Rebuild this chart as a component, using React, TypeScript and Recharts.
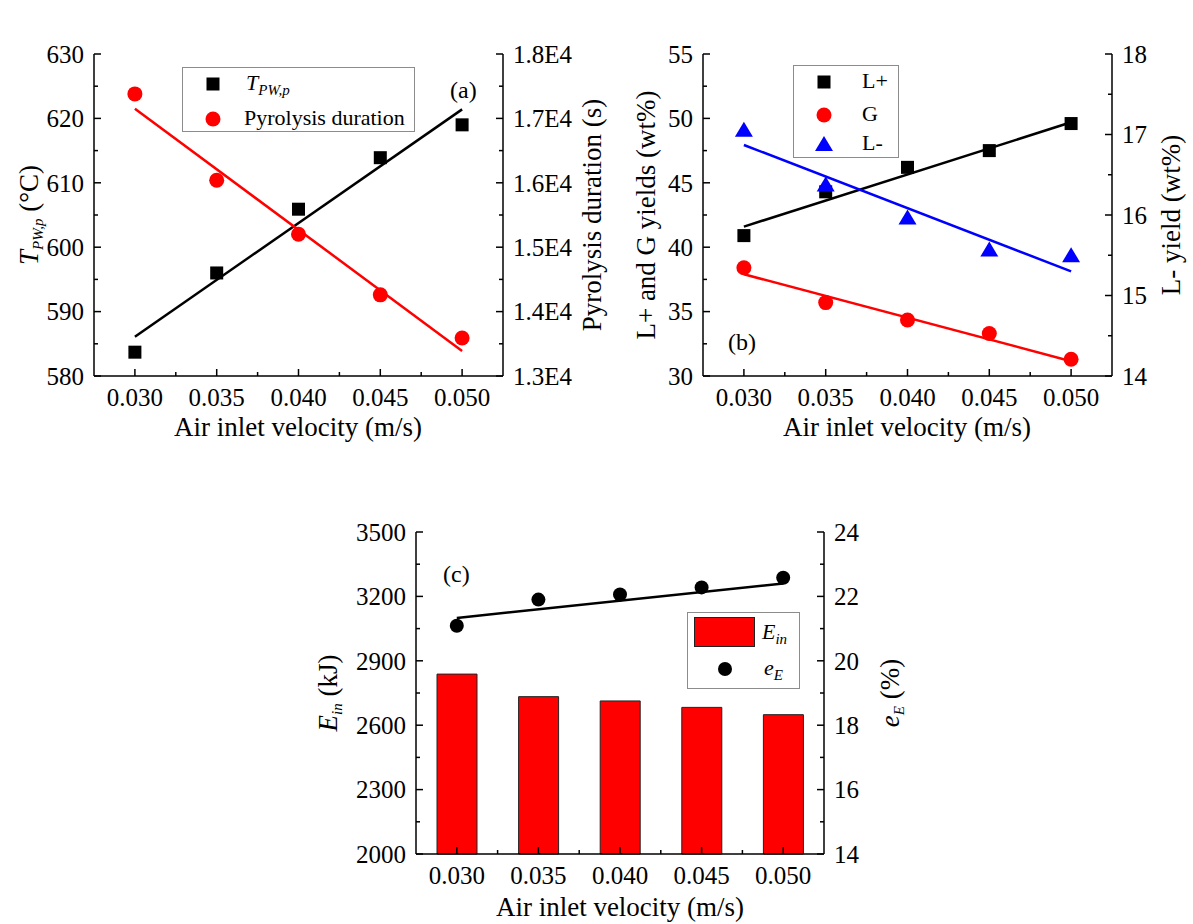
import React from "react";
import { ComposedChart, Line, Bar, XAxis, YAxis, Legend } from "recharts";

// ---- values ----
const velocity = [0.03, 0.035, 0.04, 0.045, 0.05];
const velocityLabels = ["0.030", "0.035", "0.040", "0.045", "0.050"];

// (a) peak pyrolysis temperature and pyrolysis duration
const peakTemp = [583.7, 596.0, 605.9, 613.9, 619.0];
const pyrolysisDuration = [17380, 16040, 15200, 14260, 13590];
const peakTempFit = [586.1, 621.4]; // fitted line at 0.030 and 0.050
const durationFit = [17150, 13390];

// (b) product yields
const lPlusYield = [40.9, 44.3, 46.2, 47.5, 49.6];
const gasYield = [38.4, 35.7, 34.35, 33.3, 31.3];
const lMinusYield = [17.06, 16.38, 15.97, 15.57, 15.5];
const lPlusFit = [41.6, 49.7];
const gasFit = [37.9, 31.15];
const lMinusFit = [16.87, 15.3];

// (c) energy input and efficiency
const energyIn = [2838, 2733, 2713, 2683, 2649];
const efficiency = [21.09, 21.9, 22.06, 22.28, 22.58];
const efficiencyFit = [21.33, 22.4];

// ticks (minor ticks included, labels only on majors)
const velocityTicks = [0.03, 0.0325, 0.035, 0.0375, 0.04, 0.0425, 0.045, 0.0475, 0.05];
const tempTicks = [580, 585, 590, 595, 600, 605, 610, 615, 620, 625, 630];
const durationTicks = [13000, 13500, 14000, 14500, 15000, 15500, 16000, 16500, 17000, 17500, 18000];
const yieldTicks = [30, 32.5, 35, 37.5, 40, 42.5, 45, 47.5, 50, 52.5, 55];
const lMinusTicks = [14, 14.5, 15, 15.5, 16, 16.5, 17, 17.5, 18];
const energyTicks = [2000, 2150, 2300, 2450, 2600, 2750, 2900, 3050, 3200, 3350, 3500];
const efficiencyTicks = [14, 15, 16, 17, 18, 19, 20, 21, 22, 23, 24];

const FONT = '"Liberation Serif", "Times New Roman", serif';
const TICK_FONT = 25;
const TITLE_FONT = 27;
const MAJOR = 7;
const MINOR = 4;
const AXIS = { stroke: "#000", strokeWidth: 1.5 };

const atEnds = (fit: number[], i: number) =>
  i === 0 ? fit[0] : i === velocity.length - 1 ? fit[1] : null;

const dataA = velocity.map((v, i) => ({
  v,
  temp: peakTemp[i],
  duration: pyrolysisDuration[i],
  tempFit: atEnds(peakTempFit, i),
  durationFit: atEnds(durationFit, i),
}));

const dataB = velocity.map((v, i) => ({
  v,
  lPlus: lPlusYield[i],
  gas: gasYield[i],
  lMinus: lMinusYield[i],
  lPlusFit: atEnds(lPlusFit, i),
  gasFit: atEnds(gasFit, i),
  lMinusFit: atEnds(lMinusFit, i),
}));

const dataC = velocity.map((v, i) => ({
  label: velocityLabels[i],
  energy: energyIn[i],
  eff: efficiency[i],
  effFit: atEnds(efficiencyFit, i),
}));

const onStep = (v: number, base: number, step: number) => {
  const q = (v - base) / step;
  return Math.abs(q - Math.round(q)) < 1e-6;
};

type TickOpts = {
  side: "left" | "right" | "bottom" | "top";
  base?: number;
  step?: number;
  fmt?: (v: any) => string;
  half?: number;
};

const makeTick =
  ({ side, base = 0, step = 0, fmt, half = 0 }: TickOpts) =>
  (props: any) => {
    const { x, y, payload, index } = props;
    const v = payload.value;
    const major = step === 0 || onStep(Number(v), base, step);
    const len = major ? MAJOR : MINOR;
    const label = major && fmt ? fmt(v) : null;
    const txt = { fill: "#000", fontFamily: FONT, fontSize: TICK_FONT };
    const ln = { stroke: "#000", strokeWidth: 1.5 };
    const extra = half > 0 && index < velocity.length - 1;
    if (side === "left")
      return (
        <g>
          <line x1={x} y1={y} x2={x + len} y2={y} {...ln} />
          {label && (
            <text x={x - 10} y={y} dy="0.35em" textAnchor="end" {...txt}>
              {label}
            </text>
          )}
        </g>
      );
    if (side === "right")
      return (
        <g>
          <line x1={x} y1={y} x2={x - len} y2={y} {...ln} />
          {label && (
            <text x={x + 10} y={y} dy="0.35em" textAnchor="start" {...txt}>
              {label}
            </text>
          )}
        </g>
      );
    if (side === "top")
      return (
        <g>
          <line x1={x} y1={y} x2={x} y2={y + len} {...ln} />
          {extra && <line x1={x + half} y1={y} x2={x + half} y2={y + MINOR} {...ln} />}
        </g>
      );
    return (
      <g>
        <line x1={x} y1={y} x2={x} y2={y - len} {...ln} />
        {extra && <line x1={x + half} y1={y} x2={x + half} y2={y - MINOR} {...ln} />}
        {label && (
          <text x={x} y={y + 30} textAnchor="middle" {...txt}>
            {label}
          </text>
        )}
      </g>
    );
  };

const fmtVel = (v: number) => v.toFixed(3);
const fmtE4 = (v: number) => (v / 10000).toFixed(1) + "E4";
const fmtPlain = (v: any) => String(v);

// ---- marker shapes ----
const squareDot = (p: any) =>
  p.cx == null ? <g /> : <rect x={p.cx - 6.5} y={p.cy - 6.5} width={13} height={13} fill="#000" />;
const redDot = (p: any) =>
  p.cx == null ? <g /> : <circle cx={p.cx} cy={p.cy} r={7.5} fill="#ff0000" />;
const blackDot = (p: any) =>
  p.cx == null ? <g /> : <circle cx={p.cx} cy={p.cy} r={7} fill="#000" />;
const triangleDot = (p: any) =>
  p.cx == null ? (
    <g />
  ) : (
    <polygon
      points={`${p.cx},${p.cy - 8} ${p.cx - 9},${p.cy + 7} ${p.cx + 9},${p.cy + 7}`}
      fill="#0000ff"
    />
  );

const LegendMarker = ({ kind }: { kind: string }) => (
  <svg width={20} height={18} style={{ display: "block" }}>
    {kind === "square" && <rect x={3.5} y={2.5} width={13} height={13} fill="#000" />}
    {kind === "red" && <circle cx={10} cy={9} r={7.5} fill="#ff0000" />}
    {kind === "black" && <circle cx={10} cy={9} r={7} fill="#000" />}
    {kind === "triangle" && <polygon points="10,1 1,16 19,16" fill="#0000ff" />}
  </svg>
);

type Row = { kind: string; my: number; mx: number; tx: number; text: React.ReactNode };

const LegendBox = ({ w, h, rows, children }: { w: number; h: number; rows: Row[]; children?: React.ReactNode }) => (
  <div
    style={{
      position: "relative",
      width: w,
      height: h,
      border: "1px solid #8c8c8c",
      boxSizing: "border-box",
      background: "#fff",
      fontFamily: FONT,
      fontSize: 22,
      lineHeight: 1,
      color: "#000",
    }}
  >
    {children}
    {rows.map((r, i) => (
      <React.Fragment key={i}>
        <div style={{ position: "absolute", left: r.mx - 10, top: r.my - 9 }}>
          <LegendMarker kind={r.kind} />
        </div>
        <div style={{ position: "absolute", left: r.tx, top: r.my - 12, whiteSpace: "nowrap" }}>{r.text}</div>
      </React.Fragment>
    ))}
  </div>
);

const Sub = ({ children }: { children: React.ReactNode }) => (
  <sub style={{ fontSize: 15, fontStyle: "italic", verticalAlign: "-0.35em" }}>{children}</sub>
);

const VTitle = ({ cx, cy, children }: { cx: number; cy: number; children: React.ReactNode }) => (
  <div
    style={{
      position: "absolute",
      left: cx,
      top: cy,
      transform: "translate(-50%, -50%) rotate(-90deg)",
      whiteSpace: "nowrap",
      fontFamily: FONT,
      fontSize: TITLE_FONT,
      lineHeight: 1,
    }}
  >
    {children}
  </div>
);

const HText = ({ cx, top, children }: { cx: number; top: number; children: React.ReactNode }) => (
  <div
    style={{
      position: "absolute",
      left: cx,
      top,
      transform: "translateX(-50%)",
      whiteSpace: "nowrap",
      fontFamily: FONT,
      fontSize: TITLE_FONT,
      lineHeight: 1,
    }}
  >
    {children}
  </div>
);

export default function App() {
  return (
    <div
      style={{
        position: "absolute",
        left: 0,
        top: 0,
        width: 1193,
        height: 924,
        background: "#fff",
        overflow: "hidden",
        fontFamily: FONT,
      }}
    >
      {/* (a) */}
      <div style={{ position: "absolute", left: 0, top: 0 }}>
        <ComposedChart width={600} height={460} data={dataA} margin={{ top: 54, right: 47, bottom: 54, left: 44 }}>
          <XAxis xAxisId="b" dataKey="v" type="number" domain={[0.0275, 0.0525]} ticks={velocityTicks} interval={0}
            height={30} tickSize={0} tickMargin={0} tickLine={false} axisLine={AXIS}
            tick={makeTick({ side: "bottom", base: 0.03, step: 0.005, fmt: fmtVel })} />
          <XAxis xAxisId="t" orientation="top" dataKey="v" type="number" domain={[0.0275, 0.0525]} ticks={velocityTicks}
            interval={0} height={0} tickSize={0} tickMargin={0} tickLine={false} axisLine={AXIS}
            tick={makeTick({ side: "top", base: 0.03, step: 0.005 })} />
          <YAxis yAxisId="l" domain={[580, 630]} ticks={tempTicks} interval={0} width={50} tickSize={0} tickMargin={0}
            tickLine={false} axisLine={AXIS} tick={makeTick({ side: "left", base: 580, step: 10, fmt: fmtPlain })} />
          <YAxis yAxisId="r" orientation="right" domain={[13000, 18000]} ticks={durationTicks} interval={0} width={50}
            tickSize={0} tickMargin={0} tickLine={false} axisLine={AXIS}
            tick={makeTick({ side: "right", base: 13000, step: 1000, fmt: fmtE4 })} />
          <Line xAxisId="t" yAxisId="l" dataKey="tempFit" stroke="#000" strokeWidth={2.5} dot={false} activeDot={false}
            connectNulls isAnimationActive={false} />
          <Line xAxisId="t" yAxisId="r" dataKey="durationFit" stroke="#ff0000" strokeWidth={2.5} dot={false}
            activeDot={false} connectNulls isAnimationActive={false} />
          <Line xAxisId="b" yAxisId="l" dataKey="temp" stroke="none" dot={squareDot} activeDot={false}
            isAnimationActive={false} />
          <Line xAxisId="b" yAxisId="r" dataKey="duration" stroke="none" dot={redDot} activeDot={false}
            isAnimationActive={false} />
          <Legend layout="vertical" align="center" verticalAlign="middle"
            wrapperStyle={{ left: 182, top: 67, width: 233, height: 65 }}
            content={() => (
              <LegendBox w={233} h={65} rows={[
                { kind: "square", mx: 30, my: 16, tx: 63, text: <span><i>T</i><Sub>PW,p</Sub></span> },
                { kind: "red", mx: 30, my: 51, tx: 61, text: "Pyrolysis duration" },
              ]} />
            )} />
        </ComposedChart>
      </div>

      {/* (b) */}
      <div style={{ position: "absolute", left: 600, top: 0 }}>
        <ComposedChart width={593} height={460} data={dataB} margin={{ top: 54, right: 31, bottom: 54, left: 53 }}>
          <XAxis xAxisId="b" dataKey="v" type="number" domain={[0.0275, 0.0525]} ticks={velocityTicks} interval={0}
            height={30} tickSize={0} tickMargin={0} tickLine={false} axisLine={AXIS}
            tick={makeTick({ side: "bottom", base: 0.03, step: 0.005, fmt: fmtVel })} />
          <XAxis xAxisId="t" orientation="top" dataKey="v" type="number" domain={[0.0275, 0.0525]} ticks={velocityTicks}
            interval={0} height={0} tickSize={0} tickMargin={0} tickLine={false} axisLine={AXIS}
            tick={makeTick({ side: "top", base: 0.03, step: 0.005 })} />
          <YAxis yAxisId="l" domain={[30, 55]} ticks={yieldTicks} interval={0} width={50} tickSize={0} tickMargin={0}
            tickLine={false} axisLine={AXIS} tick={makeTick({ side: "left", base: 30, step: 5, fmt: fmtPlain })} />
          <YAxis yAxisId="r" orientation="right" domain={[14, 18]} ticks={lMinusTicks} interval={0} width={50}
            tickSize={0} tickMargin={0} tickLine={false} axisLine={AXIS}
            tick={makeTick({ side: "right", base: 14, step: 1, fmt: fmtPlain })} />
          <Line xAxisId="t" yAxisId="l" dataKey="lPlusFit" stroke="#000" strokeWidth={2.5} dot={false} activeDot={false}
            connectNulls isAnimationActive={false} />
          <Line xAxisId="t" yAxisId="l" dataKey="gasFit" stroke="#ff0000" strokeWidth={2.5} dot={false} activeDot={false}
            connectNulls isAnimationActive={false} />
          <Line xAxisId="t" yAxisId="r" dataKey="lMinusFit" stroke="#0000ff" strokeWidth={2.5} dot={false}
            activeDot={false} connectNulls isAnimationActive={false} />
          <Line xAxisId="b" yAxisId="l" dataKey="lPlus" stroke="none" dot={squareDot} activeDot={false}
            isAnimationActive={false} />
          <Line xAxisId="b" yAxisId="l" dataKey="gas" stroke="none" dot={redDot} activeDot={false}
            isAnimationActive={false} />
          <Line xAxisId="b" yAxisId="r" dataKey="lMinus" stroke="none" dot={triangleDot} activeDot={false}
            isAnimationActive={false} />
          <Legend layout="vertical" align="center" verticalAlign="middle"
            wrapperStyle={{ left: 193, top: 65, width: 106, height: 93 }}
            content={() => (
              <LegendBox w={106} h={93} rows={[
                { kind: "square", mx: 30, my: 16, tx: 68, text: "L+" },
                { kind: "red", mx: 30, my: 49, tx: 68, text: "G" },
                { kind: "triangle", mx: 30, my: 78, tx: 68, text: "L-" },
              ]} />
            )} />
        </ComposedChart>
      </div>

      {/* (c) */}
      <div style={{ position: "absolute", left: 300, top: 480 }}>
        <ComposedChart width={600} height={444} data={dataC} margin={{ top: 52, right: 26, bottom: 40, left: 66 }}
          barCategoryGap="25%">
          <XAxis xAxisId="b" dataKey="label" type="category" interval={0} height={30} tickSize={0} tickMargin={0}
            tickLine={false} axisLine={AXIS} tick={makeTick({ side: "bottom", fmt: fmtPlain, half: 40.8 })} />
          <XAxis xAxisId="t" orientation="top" dataKey="label" type="category" interval={0} height={0} tickSize={0}
            tickMargin={0} tickLine={false} axisLine={AXIS} tick={makeTick({ side: "top", half: 40.8 })} />
          <YAxis yAxisId="l" domain={[2000, 3500]} ticks={energyTicks} interval={0} width={50} tickSize={0}
            tickMargin={0} tickLine={false} axisLine={AXIS}
            tick={makeTick({ side: "left", base: 2000, step: 300, fmt: fmtPlain })} />
          <YAxis yAxisId="r" orientation="right" domain={[14, 24]} ticks={efficiencyTicks} interval={0} width={50}
            tickSize={0} tickMargin={0} tickLine={false} axisLine={AXIS}
            tick={makeTick({ side: "right", base: 14, step: 2, fmt: fmtPlain })} />
          <Bar xAxisId="b" yAxisId="l" dataKey="energy" fill="#ff0000" stroke="#222" strokeWidth={1} barSize={40}
            isAnimationActive={false} />
          <Line xAxisId="t" yAxisId="r" dataKey="effFit" stroke="#000" strokeWidth={2.5} dot={false} activeDot={false}
            connectNulls isAnimationActive={false} />
          <Line xAxisId="t" yAxisId="r" dataKey="eff" stroke="none" dot={blackDot} activeDot={false}
            isAnimationActive={false} />
          <Legend layout="vertical" align="center" verticalAlign="middle"
            wrapperStyle={{ left: 387, top: 132, width: 113, height: 77 }}
            content={() => (
              <LegendBox w={113} h={77} rows={[
                { kind: "black", mx: 37, my: 56, tx: 76, text: <span><i>e</i><Sub>E</Sub></span> },
              ]}>
                <div style={{ position: "absolute", left: 6, top: 4, width: 61, height: 30, background: "#ff0000",
                  border: "1px solid #222", boxSizing: "border-box" }} />
                <div style={{ position: "absolute", left: 74, top: 8, whiteSpace: "nowrap" }}>
                  <i>E</i><Sub>in</Sub>
                </div>
              </LegendBox>
            )} />
        </ComposedChart>
      </div>

      {/* axis titles */}
      <VTitle cx={31} cy={215}><i>T</i><Sub>PW,p</Sub> (°C)</VTitle>
      <VTitle cx={592} cy={215}>Pyrolysis duration (s)</VTitle>
      <HText cx={298} top={414}>Air inlet velocity (m/s)</HText>
      <VTitle cx={646} cy={215}>L+ and G yields (wt%)</VTitle>
      <VTitle cx={1171} cy={215}>L- yield (wt%)</VTitle>
      <HText cx={907} top={414}>Air inlet velocity (m/s)</HText>
      <VTitle cx={330} cy={693}><i>E</i><Sub>in</Sub> (kJ)</VTitle>
      <VTitle cx={892} cy={693}><i>e</i><Sub>E</Sub> (%)</VTitle>
      <HText cx={620} top={894}>Air inlet velocity (m/s)</HText>

      {/* panel letters */}
      <div style={{ position: "absolute", left: 450, top: 78, fontSize: 24, lineHeight: 1 }}>(a)</div>
      <div style={{ position: "absolute", left: 728, top: 330, fontSize: 24, lineHeight: 1 }}>(b)</div>
      <div style={{ position: "absolute", left: 443, top: 562, fontSize: 24, lineHeight: 1 }}>(c)</div>
    </div>
  );
}
